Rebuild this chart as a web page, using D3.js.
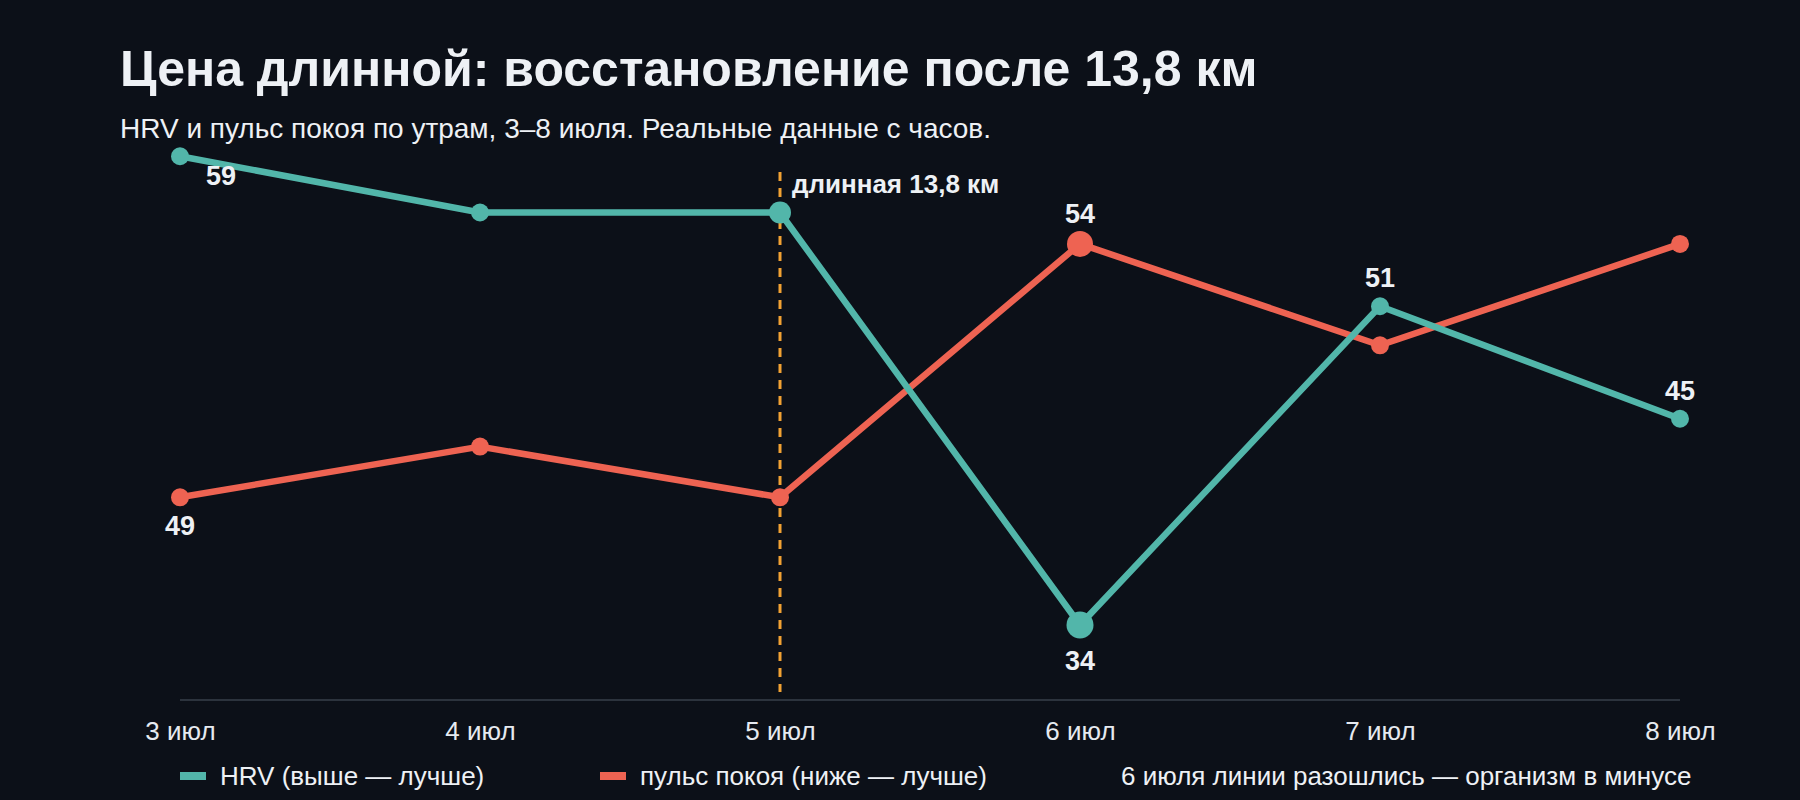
<!DOCTYPE html>
<html>
<head>
<meta charset="utf-8">
<script src="https://cdn.jsdelivr.net/npm/d3@7"></script>
<style>
  html, body { margin: 0; padding: 0; background: #0c1018; }
  svg { display: block; }
  text { font-family: "Liberation Sans", Arial, Helvetica, sans-serif; }
</style>
</head>
<body>
<svg id="chart" width="1800" height="800"></svg>
<script>
// ---- data ----
const days = ["3 июл", "4 июл", "5 июл", "6 июл", "7 июл", "8 июл"];
const hrv = [59, 56, 56, 34, 51, 45];
const pulse = [49, 50, 49, 54, 52, 54];
const longRunDay = "5 июл";
const worstDay = "6 июл";
const titleText = "Цена длинной: восстановление после 13,8 км";
const subtitleText = "HRV и пульс покоя по утрам, 3–8 июля. Реальные данные с часов.";
const markerText = "длинная 13,8 км";
const legendHRV = "HRV (выше — лучше)";
const legendPulse = "пульс покоя (ниже — лучше)";
const noteText = "6 июля линии разошлись — организм в минусе";

// ---- styles ----
const W = 1800, H = 800;
const BG = "#0c1018";
const HRV_COLOR = "#52b6aa";
const PULSE_COLOR = "#ee6352";
const DASH_COLOR = "#f2a233";
const TEXT = "#eef1f5";

const svg = d3.select("#chart");
svg.append("rect").attr("width", W).attr("height", H).attr("fill", BG);

const x = d3.scalePoint().domain(days).range([180, 1680]);
const yH = d3.scaleLinear().domain([30, 62]).range([700, 100]);
const yP = d3.scaleLinear().domain([45, 56.84]).range([700, 100]);

// title
svg.append("text").attr("x", 120).attr("y", 86)
  .attr("font-size", 50).attr("font-weight", 700).attr("fill", TEXT)
  .text(titleText);
svg.append("text").attr("x", 120).attr("y", 138)
  .attr("font-size", 28).attr("fill", TEXT)
  .text(subtitleText);

// axis baseline
svg.append("line").attr("x1", x(days[0])).attr("x2", x(days[days.length - 1]))
  .attr("y1", 700).attr("y2", 700).attr("stroke", "#2c333d").attr("stroke-width", 2);

// x-axis via d3.axisBottom (tick labels only)
const xAxis = svg.append("g").attr("transform", "translate(0,700)")
  .call(d3.axisBottom(x).tickSize(0).tickPadding(22));
xAxis.select(".domain").remove();
xAxis.selectAll("text").attr("font-size", 26).attr("fill", "#e6eaf0")
  .attr("font-family", "\"Liberation Sans\", Arial, Helvetica, sans-serif");

// long-run marker
svg.append("line").attr("x1", x(longRunDay)).attr("x2", x(longRunDay))
  .attr("y1", 172).attr("y2", 692)
  .attr("stroke", DASH_COLOR).attr("stroke-width", 3).attr("stroke-dasharray", "9,7");
svg.append("text").attr("x", x(longRunDay) + 12).attr("y", 193)
  .attr("font-size", 26).attr("font-weight", 700).attr("fill", TEXT)
  .text(markerText);

// lines
function drawSeries(values, yScale, color, radiusFn) {
  const line = d3.line().x((d, i) => x(days[i])).y(d => yScale(d));
  svg.append("path").datum(values).attr("d", line)
    .attr("fill", "none").attr("stroke", color).attr("stroke-width", 6.5)
    .attr("stroke-linejoin", "round");
  svg.append("g").selectAll("circle").data(values).join("circle")
    .attr("cx", (d, i) => x(days[i])).attr("cy", d => yScale(d))
    .attr("r", (d, i) => radiusFn(days[i])).attr("fill", color);
}
drawSeries(pulse, yP, PULSE_COLOR, day => day === worstDay ? 13 : 9);
drawSeries(hrv, yH, HRV_COLOR, day => day === worstDay ? 13.5 : (day === longRunDay ? 11 : 9));

// value labels
const labels = [
  { s: hrv, y: yH, i: 0, dx: 41, dy: 29 },
  { s: hrv, y: yH, i: 3, dx: 0, dy: 45 },
  { s: hrv, y: yH, i: 4, dx: 0, dy: -19 },
  { s: hrv, y: yH, i: 5, dx: 0, dy: -19 },
  { s: pulse, y: yP, i: 0, dx: 0, dy: 38 },
  { s: pulse, y: yP, i: 3, dx: 0, dy: -21 }
];
svg.append("g").selectAll("text").data(labels).join("text")
  .attr("x", d => x(days[d.i]) + d.dx)
  .attr("y", d => d.y(d.s[d.i]) + d.dy)
  .attr("text-anchor", "middle").attr("font-size", 27).attr("font-weight", 700)
  .attr("fill", TEXT).text(d => d.s[d.i]);

// legend
const legend = svg.append("g");
const items = [
  { x: 180, color: HRV_COLOR, text: legendHRV },
  { x: 600, color: PULSE_COLOR, text: legendPulse }
];
items.forEach(it => {
  legend.append("rect").attr("x", it.x).attr("y", 772).attr("width", 26).attr("height", 8)
    .attr("fill", it.color);
  legend.append("text").attr("x", it.x + 40).attr("y", 785)
    .attr("font-size", 26).attr("fill", TEXT).text(it.text);
});
legend.append("text").attr("x", 1121).attr("y", 785)
  .attr("font-size", 26).attr("fill", TEXT).text(noteText);
</script>
</body>
</html>
